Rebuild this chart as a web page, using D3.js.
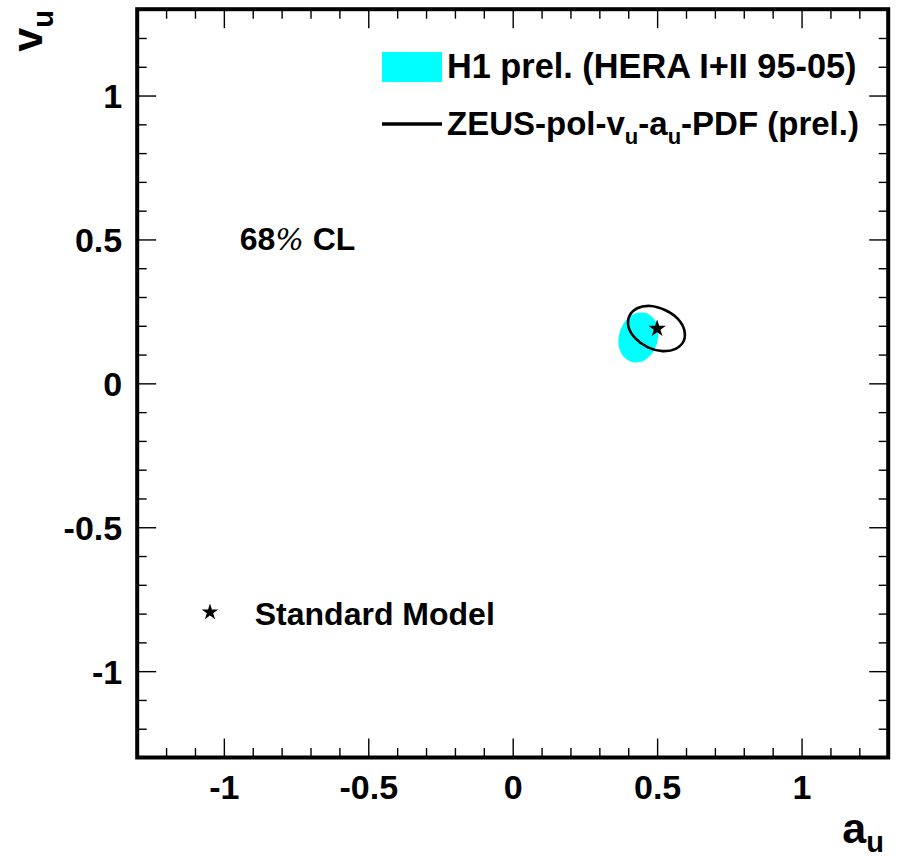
<!DOCTYPE html>
<html>
<head>
<meta charset="utf-8">
<script src="https://cdn.jsdelivr.net/npm/d3@7"></script>
<style>
  html, body { margin: 0; padding: 0; background: #fff; }
  svg { display: block; }
  text { font-family: "Liberation Sans", Arial, Helvetica, sans-serif; font-weight: bold; fill: #000; }
</style>
</head>
<body>
<svg id="chart" width="897" height="857"></svg>
<script>
// ---- data ----
const axisDomain = [-1.3, 1.3];
const majorTicks = [-1, -0.5, 0, 0.5, 1];
const majorTickLabels = ["-1", "-0.5", "0", "0.5", "1"];
// H1 prel. 68% CL contour (a_u, v_u)
const h1Contour = [
  [0.458, 0.245], [0.488, 0.225], [0.503, 0.187], [0.500, 0.141],
  [0.480, 0.101], [0.448, 0.076], [0.412, 0.074], [0.383, 0.094],
  [0.367, 0.131], [0.370, 0.177], [0.390, 0.217], [0.422, 0.242]
];
// ZEUS-pol-v_u-a_u-PDF (prel.) 68% CL contour (a_u, v_u)
const zeusContour = [
  [0.592, 0.147], [0.564, 0.120], [0.519, 0.112], [0.468, 0.125],
  [0.425, 0.156], [0.401, 0.196], [0.404, 0.234], [0.431, 0.261],
  [0.477, 0.269], [0.527, 0.255], [0.571, 0.225], [0.594, 0.185]
];
// Standard Model point (a_u, v_u)
const standardModel = [[0.5, 0.19]];
const legendLabels = ["H1 prel. (HERA I+II 95-05)", "ZEUS-pol-v", "u", "-a", "u", "-PDF (prel.)"];
const xTitle = ["a", "u"];
const yTitle = ["v", "u"];

// ---- scales ----
const svg = d3.select("#chart");
const x = d3.scaleLinear().domain(axisDomain).range([137.2, 888.2]);
const y = d3.scaleLinear().domain(axisDomain).range([757.5, 9.2]);
const minorTicks = d3.range(-12, 13).map(i => i / 10).filter(v => Math.abs(v * 2 - Math.round(v * 2)) > 1e-9);

const line = d3.line().x(d => x(d[0])).y(d => y(d[1])).curve(d3.curveCatmullRomClosed.alpha(0.5));

// ---- marks ----
svg.append("path").datum(h1Contour).attr("d", line).attr("fill", "#00ffff").attr("stroke", "none");
svg.append("path").datum(zeusContour).attr("d", line).attr("fill", "none").attr("stroke", "#000").attr("stroke-width", 2.6);
svg.selectAll(".sm").data(standardModel).enter().append("path")
  .attr("transform", d => `translate(${x(d[0])},${y(d[1])})`)
  .attr("d", d3.symbol(d3.symbolStar, 95)).attr("fill", "#000");

// ---- axes ----
const x0 = x.range()[0], x1 = x.range()[1], y0 = y.range()[0], y1 = y.range()[1];
function addAxis(gen, tf, vals, size, labels) {
  const g = svg.append("g").attr("transform", tf)
    .call(gen.tickValues(vals).tickSizeInner(size).tickSizeOuter(0)
      .tickFormat(labels ? (d, i) => labels[i] : () => ""));
  g.select(".domain").remove();
  g.selectAll(".tick line").attr("stroke", "#000").attr("stroke-width", 1.4);
  return g;
}
// bottom
const gb = addAxis(d3.axisBottom(x), `translate(0,${y0})`, majorTicks, -19, majorTickLabels);
addAxis(d3.axisBottom(x), `translate(0,${y0})`, minorTicks, -9.5, null);
gb.selectAll(".tick text").attr("font-size", 34).attr("y", 0).attr("dy", 0)
  .attr("transform", "translate(0,41)");
// top
addAxis(d3.axisTop(x), `translate(0,${y1})`, majorTicks, -19, null);
addAxis(d3.axisTop(x), `translate(0,${y1})`, minorTicks, -9.5, null);
// left
const gl = addAxis(d3.axisLeft(y), `translate(${x0},0)`, majorTicks, -19, majorTickLabels);
addAxis(d3.axisLeft(y), `translate(${x0},0)`, minorTicks, -9.5, null);
gl.selectAll(".tick text").attr("font-size", 34).attr("x", -15).attr("dy", "0.36em");
// right
addAxis(d3.axisRight(y), `translate(${x1},0)`, majorTicks, -19, null);
addAxis(d3.axisRight(y), `translate(${x1},0)`, minorTicks, -9.5, null);

// frame
svg.append("rect").attr("x", x0).attr("y", y1).attr("width", x1 - x0).attr("height", y0 - y1)
  .attr("fill", "none").attr("stroke", "#000").attr("stroke-width", 4);

// ---- axis titles ----
const xt = svg.append("text").attr("x", 884).attr("y", 843).attr("text-anchor", "end").attr("font-size", 43);
xt.append("tspan").text(xTitle[0]);
xt.append("tspan").attr("font-size", 29).attr("dy", 9).text(xTitle[1]);

const yt = svg.append("text").attr("transform", "translate(42,10) rotate(-90)").attr("text-anchor", "end").attr("font-size", 43);
yt.append("tspan").text(yTitle[0]);
yt.append("tspan").attr("font-size", 29).attr("dy", 11).text(yTitle[1]);

// ---- legend ----
svg.append("rect").attr("x", 382).attr("y", 52).attr("width", 60).attr("height", 30).attr("fill", "#00ffff");
svg.append("text").attr("x", 447).attr("y", 78).attr("font-size", 34.3).text(legendLabels[0]);
svg.append("line").attr("x1", 382).attr("x2", 442).attr("y1", 124).attr("y2", 124)
  .attr("stroke", "#000").attr("stroke-width", 3.5);
const zt = svg.append("text").attr("x", 447).attr("y", 135).attr("font-size", 33);
zt.append("tspan").text(legendLabels[1]);
zt.append("tspan").attr("font-size", 22).attr("dy", 9).text(legendLabels[2]);
zt.append("tspan").attr("dy", -9).text(legendLabels[3]);
zt.append("tspan").attr("font-size", 22).attr("dy", 9).text(legendLabels[4]);
zt.append("tspan").attr("dy", -9).text(legendLabels[5]);

// 68% CL
const cl = svg.append("text").attr("x", x(-0.945)).attr("y", y(0.462)).attr("font-size", 32);
cl.append("tspan").text("68");
cl.append("tspan").attr("font-family", "'DejaVu Serif', serif").attr("font-weight", "normal").attr("font-style", "italic").attr("font-size", 30).text("%");
cl.append("tspan").text(" CL");

// Standard Model legend
svg.append("path").attr("transform", `translate(${x(-1.048)},${y(-0.795)})`)
  .attr("d", d3.symbol(d3.symbolStar, 85)).attr("fill", "#000");
svg.append("text").attr("x", x(-0.893)).attr("y", y(-0.84)).attr("font-size", 32).text("Standard Model");
</script>
</body>
</html>
